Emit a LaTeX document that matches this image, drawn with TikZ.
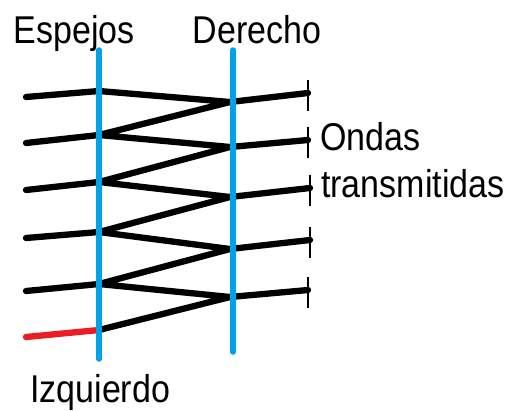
\documentclass[tikz,border=0pt]{standalone}
\usepackage{fontspec}
\setmainfont{Liberation Sans}
\usepackage{xcolor}
\usetikzlibrary{calc}
\definecolor{mirrorblue}{HTML}{00A2E8}
\definecolor{rayred}{HTML}{ED1C24}

\begin{document}
\begin{tikzpicture}[x=1pt,y=1pt,
    mirror/.style={mirrorblue, line width=5.5pt, line cap=round},
    ray/.style={black, line width=6.3pt, line cap=round, line join=round},
    tick/.style={black, line width=2pt},
    lbl/.style={inner sep=0pt, font=\fontsize{34}{40}\selectfont, yscale=1.14, transform shape}]
    \useasboundingbox (0,0) rectangle (510,-410);

    \coordinate (ltop) at (99,-50);
    \coordinate (lbot) at (99,-359);
    \coordinate (rtop) at (233,-50);
    \coordinate (rbot) at (233,-352);

    \foreach \n/\y in {0/330,1/284,2/232,3/182,4/135,5/91}
        \coordinate (L\n) at (99,-\y);
    \foreach \n/\y in {1/297,2/249,3/197,4/147,5/102}
        \coordinate (R\n) at (230,-\y);
    \foreach \n/\y in {1/291,2/238,3/190,4/143,5/97}
        \coordinate (A\n) at (26,-\y);
    \foreach \n/\x/\y in {1/308/290,2/310/240,3/310/188,4/308/140,5/308/93}
        \coordinate (B\n) at (\x,-\y);
    \coordinate (src) at (26,-337);

    \draw[ray, rayred] (src) -- (L0);
    \draw[ray] (L0) -- (R1) -- (L1) -- (R2) -- (L2) -- (R3) -- (L3) -- (R4) -- (L4) -- (R5) -- (L5);
    \foreach \n in {1,...,5} {
        \draw[ray] (L\n) -- (A\n);
        \draw[ray] (R\n) -- (B\n);
        \draw[tick] (B\n) ++(0,13) -- ++(0,-31);
    }

    \draw[mirror] (ltop) -- (lbot);
    \draw[mirror] (rtop) -- (rbot);

    \node[lbl, anchor=base] (espejos) at (74,-43) {Espejos};
    \node[lbl, anchor=base] (derecho) at (257,-43) {Derecho};
    \node[lbl, anchor=base west] (ondas) at (320,-150) {Ondas};
    \node[lbl, anchor=base west] (transm) at (321,-197) {transmitidas};
    \node[lbl, anchor=base west] (izq) at (30,-402) {Izquierdo};
\end{tikzpicture}
\end{document}
